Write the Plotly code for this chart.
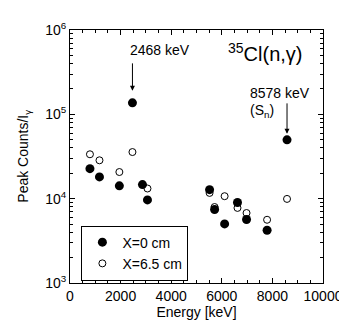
import plotly.graph_objects as go
import math

# ---- data ----
energy_x0 = [788, 1165, 1951, 2468, 2864, 3062, 5517, 5715, 6111, 6620, 6978, 7790, 8578]
counts_x0 = [22700, 18100, 14200, 136800, 14700, 9660, 12800, 7430, 5020, 9010, 5660, 4220, 49800]
energy_x65 = [788, 1165, 1951, 2468, 3062, 5517, 5715, 6111, 6620, 6978, 7790, 8578]
counts_x65 = [33600, 28500, 20700, 35700, 13200, 11700, 7960, 10700, 7770, 6760, 5620, 9930]
series_names = ["X=0 cm", "X=6.5 cm"]
x_ticks = [0, 2000, 4000, 6000, 8000, 10000]
x_ticktext = ["0", "2000", "4000", "6000", "8000", "10000"]
y_tickvals = [1e3, 1e4, 1e5, 1e6]
y_ticktext = ["10<sup>3</sup>", "10<sup>4</sup>", "10<sup>5</sup>", "10<sup>6</sup>"]

FONT = "Liberation Sans, Arial, sans-serif"
FS = 14

fig = go.Figure()
fig.add_trace(go.Scatter(
    x=energy_x0, y=counts_x0, mode="markers", name=series_names[0],
    marker=dict(symbol="circle", size=9, color="black", line=dict(width=0))))
fig.add_trace(go.Scatter(
    x=energy_x65, y=counts_x65, mode="markers", name=series_names[1],
    marker=dict(symbol="circle-open", size=7, color="black", line=dict(width=1))))

axis_common = dict(
    showline=True, linecolor="black", linewidth=1, mirror="ticks",
    ticks="inside", tickcolor="black", showgrid=False, zeroline=False,
    tickfont=dict(family=FONT, size=FS, color="black"),
)

fig.update_xaxes(
    range=[0, 10000], tickvals=x_ticks, ticktext=x_ticktext, ticklen=5,
    minor=dict(ticks="inside", dtick=500, ticklen=3, tickcolor="black", showgrid=False),
    title=dict(text="Energy [keV]", font=dict(family=FONT, size=FS, color="black"), standoff=2),
    **axis_common)
fig.update_yaxes(
    type="log", range=[3, 6], tickvals=y_tickvals, ticktext=y_ticktext, ticklen=5,
    minor=dict(ticks="inside", dtick="D1", ticklen=3, tickcolor="black", showgrid=False),
    **axis_common)

arrow = dict(showarrow=True, arrowhead=2, arrowsize=1, arrowwidth=1, arrowcolor="black",
             axref="pixel", ayref="pixel", ax=0, text="")
i0 = energy_x0.index(2468)
i1 = energy_x0.index(8578)
annotations = [
    dict(x=2468, y=math.log10(counts_x0[i0]), ay=-41, standoff=12, **arrow),
    dict(x=8578, y=math.log10(counts_x0[i1]), ay=-38, standoff=6, **arrow),
    dict(x=2300, y=5.76, text="2468 keV", showarrow=False, xanchor="left", yanchor="middle",
         font=dict(family=FONT, size=FS, color="black")),
    dict(x=6180, y=5.73, text="<sup>35</sup>Cl(n,γ)", showarrow=False, xanchor="left",
         yanchor="middle", font=dict(family=FONT, size=20, color="black")),
    dict(x=7050, y=5.25, text="8578 keV", showarrow=False, xanchor="left", yanchor="middle",
         font=dict(family=FONT, size=FS, color="black")),
    dict(x=7050, y=5.04, text="(S<sub>n</sub>)", showarrow=False, xanchor="left",
         yanchor="middle", font=dict(family=FONT, size=FS, color="black")),
    dict(xref="paper", yref="paper", x=-0.185, y=0.5, text="Peak Counts/I<sub>γ</sub>",
         textangle=-90, showarrow=False, xanchor="center", yanchor="middle",
         font=dict(family=FONT, size=FS, color="black")),
]

fig.update_layout(
    width=347, height=320,
    margin=dict(l=62, r=20, t=22, b=34),
    paper_bgcolor="white", plot_bgcolor="white",
    annotations=annotations,
    showlegend=True,
    legend=dict(x=0.045, y=0.227, xanchor="left", yanchor="top",
                bordercolor="black", borderwidth=1, bgcolor="white",
                font=dict(family=FONT, size=FS, color="black"),
                tracegroupgap=0, itemwidth=30),
)

fig.write_html("out.html")
